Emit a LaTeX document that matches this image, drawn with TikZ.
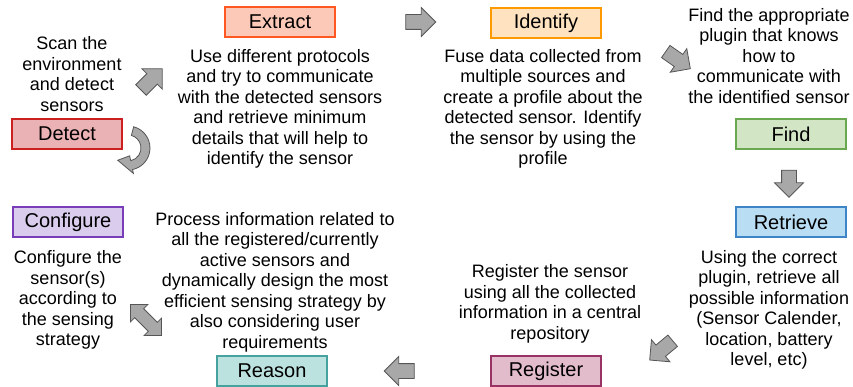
\documentclass[tikz,border=0pt]{standalone}
\usepackage{fontspec}
\setmainfont{Liberation Sans}
\usetikzlibrary{shapes.arrows,calc}
\definecolor{arrowfill}{HTML}{A8A8A8}
\definecolor{arrowline}{HTML}{555555}
\definecolor{extractfill}{HTML}{FCC9B9}\definecolor{extractline}{HTML}{FF5722}
\definecolor{detectfill}{HTML}{EAB2B5}\definecolor{detectline}{HTML}{CC1F1F}
\definecolor{identifyfill}{HTML}{FFE3C0}\definecolor{identifyline}{HTML}{FF9900}
\definecolor{findfill}{HTML}{D2E5C5}\definecolor{findline}{HTML}{6AA84F}
\definecolor{retrievefill}{HTML}{B9DDF2}\definecolor{retrieveline}{HTML}{3D85C6}
\definecolor{registerfill}{HTML}{E3BCCB}\definecolor{registerline}{HTML}{993366}
\definecolor{reasonfill}{HTML}{BCE2DF}\definecolor{reasonline}{HTML}{45A29E}
\definecolor{configfill}{HTML}{D9CCEC}\definecolor{configline}{HTML}{7A3DB8}
\tikzset{
  stage/.style={line width=1.4pt, minimum width=110pt, minimum height=30pt, inner sep=0pt,
    font=\fontsize{20}{22}\selectfont},
  desc/.style={align=center, inner sep=0pt, font=\fontsize{18}{20.5}\selectfont},
  blockarrow/.style={single arrow, draw=arrowline, fill=arrowfill, line width=0.8pt,
    minimum height=30pt, inner sep=7pt, single arrow head extend=7pt},
}
\begin{document}
\begin{tikzpicture}[x=1pt,y=1pt]
            \useasboundingbox (0,0) rectangle (853,-387);
            % stages
            \node[stage, draw=extractline, fill=extractfill] (extract) at (280,-22) {Extract};
            \node[stage, draw=detectline, fill=detectfill] (detect) at (67,-134) {Detect};
            \node[stage, draw=identifyline, fill=identifyfill] (identify) at (546,-23) {Identify};
            \node[stage, draw=findline, fill=findfill] (find) at (791,-134) {Find};
            \node[stage, draw=retrieveline, fill=retrievefill] (retrieve) at (791,-222) {Retrieve};
            \node[stage, draw=registerline, fill=registerfill] (register) at (546,-371) {Register};
            \node[stage, draw=reasonline, fill=reasonfill] (reason) at (272,-371) {Reason};
            \node[stage, draw=configline, fill=configfill] (configure) at (68,-222) {Configure};
            % descriptions
            \node[desc] (detecttxt) at (72,-74) {Scan the\\environment\\and detect\\sensors};
            \node[desc] (extracttxt) at (280,-109) {Use different protocols\\and try to communicate\\with the detected sensors\\and retrieve minimum\\details that will help to\\identify the sensor};
            \node[desc] (identifytxt) at (543,-109) {Fuse data collected from\\multiple sources and\\create a profile about the\\detected sensor. Identify\\the sensor by using the\\profile};
            \node[desc] (findtxt) at (769,-56) {Find the appropriate\\plugin that knows\\how to\\communicate with\\the identified sensor};
            \node[desc] (retrievetxt) at (769,-310) {Using the correct\\plugin, retrieve all\\possible information\\(Sensor Calender,\\location, battery\\level, etc)};
            \node[desc] (registertxt) at (550,-304) {Register the sensor\\using all the collected\\information in a central\\repository};
            \node[desc] (reasontxt) at (275,-282) {Process information related to\\all the registered/currently\\active sensors and\\dynamically design the most\\efficient sensing strategy by\\also considering user\\requirements};
            \node[desc] (configtxt) at (68,-300) {Configure the\\sensor(s)\\according to\\the sensing\\strategy};
            % arrows
            \node[blockarrow, rotate=45] (a1) at (149,-82) {};
            \node[blockarrow] (a2) at (417,-22) {};
            \node[blockarrow, rotate=-35] (a3) at (675,-58) {};
            \node[blockarrow, rotate=-90, minimum height=27pt] (a4) at (789,-180) {};
            \node[blockarrow, rotate=-140] (a5) at (664,-348) {};
            \node[blockarrow, rotate=180] (a6) at (403,-371) {};
            \node[double arrow, draw=arrowline, fill=arrowfill, line width=0.8pt, minimum height=44pt,
              inner sep=6pt, double arrow head extend=6pt, rotate=-45] (a7) at (146,-320) {};
            % loop at detect
            \coordinate (c) at (128,-148);
            \filldraw[fill=arrowfill, draw=arrowline, line width=0.8pt]
              ($(c)+(75:22)$) arc[start angle=75, end angle=-78, radius=22]
              -- ($(c)+(-78:26)$) -- ($(c)+(-130:16)$) -- ($(c)+(-78:8)$)
              -- ($(c)+(-78:13)$) arc[start angle=-78, end angle=75, radius=13] -- cycle;
          \end{tikzpicture}
\end{document}
